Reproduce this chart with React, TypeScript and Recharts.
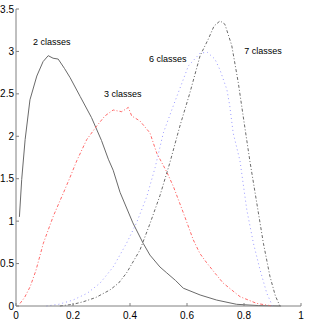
import React from 'react';
import { LineChart, Line, XAxis, YAxis, ReferenceDot } from 'recharts';

// values (x, density)
const twoClasses = [
  { x: 0.012, y: 1.05 }, { x: 0.02, y: 1.49 }, { x: 0.032, y: 1.96 }, { x: 0.049, y: 2.43 },
  { x: 0.073, y: 2.71 }, { x: 0.095, y: 2.88 }, { x: 0.113, y: 2.95 }, { x: 0.13, y: 2.92 },
  { x: 0.148, y: 2.91 }, { x: 0.17, y: 2.8 }, { x: 0.19, y: 2.69 }, { x: 0.225, y: 2.47 },
  { x: 0.265, y: 2.22 }, { x: 0.3, y: 1.95 }, { x: 0.324, y: 1.73 }, { x: 0.341, y: 1.6 },
  { x: 0.365, y: 1.34 }, { x: 0.41, y: 0.98 }, { x: 0.446, y: 0.74 }, { x: 0.47, y: 0.6 },
  { x: 0.505, y: 0.46 }, { x: 0.529, y: 0.39 }, { x: 0.56, y: 0.3 }, { x: 0.587, y: 0.21 },
  { x: 0.646, y: 0.13 }, { x: 0.704, y: 0.07 }, { x: 0.774, y: 0.02 }, { x: 0.85, y: 0.005 },
  { x: 0.93, y: 0 },
];

const threeClasses = [
  { x: 0.014, y: 0.03 }, { x: 0.03, y: 0.1 }, { x: 0.05, y: 0.23 }, { x: 0.07, y: 0.42 },
  { x: 0.096, y: 0.74 }, { x: 0.131, y: 1.06 }, { x: 0.166, y: 1.33 }, { x: 0.19, y: 1.52 },
  { x: 0.213, y: 1.71 }, { x: 0.248, y: 1.96 }, { x: 0.283, y: 2.12 }, { x: 0.312, y: 2.24 },
  { x: 0.341, y: 2.31 }, { x: 0.355, y: 2.3 }, { x: 0.371, y: 2.29 }, { x: 0.394, y: 2.34 },
  { x: 0.406, y: 2.24 }, { x: 0.435, y: 2.18 }, { x: 0.47, y: 2.04 }, { x: 0.494, y: 1.8 },
  { x: 0.529, y: 1.58 }, { x: 0.552, y: 1.41 }, { x: 0.587, y: 1.1 }, { x: 0.622, y: 0.78 },
  { x: 0.645, y: 0.62 }, { x: 0.669, y: 0.51 }, { x: 0.7, y: 0.38 }, { x: 0.727, y: 0.27 },
  { x: 0.786, y: 0.11 }, { x: 0.845, y: 0.03 }, { x: 0.9, y: 0 },
];

const sixClasses = [
  { x: 0.107, y: 0 }, { x: 0.15, y: 0.02 }, { x: 0.2, y: 0.07 }, { x: 0.25, y: 0.15 },
  { x: 0.295, y: 0.27 }, { x: 0.341, y: 0.46 }, { x: 0.388, y: 0.74 }, { x: 0.423, y: 0.98 },
  { x: 0.459, y: 1.29 }, { x: 0.488, y: 1.63 }, { x: 0.517, y: 2.04 }, { x: 0.552, y: 2.36 },
  { x: 0.587, y: 2.67 }, { x: 0.605, y: 2.83 }, { x: 0.646, y: 2.98 }, { x: 0.671, y: 2.99 },
  { x: 0.698, y: 2.91 }, { x: 0.716, y: 2.78 }, { x: 0.74, y: 2.55 }, { x: 0.75, y: 2.36 },
  { x: 0.762, y: 2.04 }, { x: 0.786, y: 1.71 }, { x: 0.81, y: 1.13 }, { x: 0.833, y: 0.74 },
  { x: 0.856, y: 0.43 }, { x: 0.88, y: 0.15 }, { x: 0.9, y: 0 },
];

const sevenClasses = [
  { x: 0.154, y: 0 }, { x: 0.2, y: 0.02 }, { x: 0.236, y: 0.05 }, { x: 0.28, y: 0.1 },
  { x: 0.33, y: 0.19 }, { x: 0.36, y: 0.27 }, { x: 0.388, y: 0.39 }, { x: 0.435, y: 0.66 },
  { x: 0.47, y: 0.97 }, { x: 0.505, y: 1.3 }, { x: 0.54, y: 1.69 }, { x: 0.575, y: 2.12 },
  { x: 0.61, y: 2.51 }, { x: 0.646, y: 2.95 }, { x: 0.674, y: 3.14 }, { x: 0.695, y: 3.3 },
  { x: 0.716, y: 3.36 }, { x: 0.733, y: 3.32 }, { x: 0.757, y: 3.07 }, { x: 0.78, y: 2.63 },
  { x: 0.797, y: 2.24 }, { x: 0.821, y: 1.7 }, { x: 0.845, y: 1.21 }, { x: 0.868, y: 0.74 },
  { x: 0.891, y: 0.35 }, { x: 0.91, y: 0.12 }, { x: 0.926, y: 0 },
];

const xTicks = [0, 0.2, 0.4, 0.6, 0.8, 1];
const yTicks = [0, 0.5, 1, 1.5, 2, 2.5, 3, 3.5];
const topTicks = [0.2, 0.6, 0.8];
const rightTicks = [2.5];

const annotations = [
  { x: 0.06, y: 3.11, text: '2 classes' },
  { x: 0.309, y: 2.5, text: '3 classes' },
  { x: 0.467, y: 2.91, text: '6 classes' },
  { x: 0.801, y: 3.0, text: '7 classes' },
];

const tickFont = { fontFamily: 'Liberation Sans, Arial, sans-serif', fontSize: 10, fill: '#000' };

const fmt = (v) => String(v);

function NoteLabel(props) {
  const { viewBox, value } = props;
  return (
    <text
      x={viewBox.x}
      y={viewBox.y}
      dominantBaseline="central"
      fontFamily="Liberation Sans, Arial, sans-serif"
      fontSize={9}
      fill="#000"
    >
      {value}
    </text>
  );
}

export default function App() {
  return (
    <div style={{ position: 'absolute', left: 0, top: 0 }}>
      <LineChart width={314} height={327} margin={{ top: 9, right: 13, bottom: 0, left: 0 }}>
        <XAxis
          xAxisId="bottom"
          type="number"
          dataKey="x"
          domain={[0, 1]}
          ticks={xTicks}
          tickFormatter={fmt}
          height={21}
          stroke="#808080"
          tickSize={-3}
          tickMargin={9}
          tick={tickFont}
        />
        <XAxis
          xAxisId="top"
          orientation="top"
          type="number"
          dataKey="x"
          domain={[0, 1]}
          ticks={topTicks}
          height={0}
          axisLine={false}
          tick={false}
          tickSize={-3}
          stroke="#808080"
        />
        <YAxis
          yAxisId="left"
          type="number"
          domain={[0, 3.5]}
          ticks={yTicks}
          tickFormatter={fmt}
          width={16}
          stroke="#808080"
          tickSize={-3}
          tickMargin={5}
          tick={tickFont}
        />
        <YAxis
          yAxisId="right"
          orientation="right"
          type="number"
          domain={[0, 3.5]}
          ticks={rightTicks}
          width={0}
          axisLine={false}
          tick={false}
          tickSize={-3}
          stroke="#808080"
        />
        <Line
          xAxisId="bottom"
          yAxisId="left"
          data={twoClasses}
          dataKey="y"
          stroke="#6a6a6a"
          strokeWidth={1}
          dot={false}
          isAnimationActive={false}
        />
        <Line
          xAxisId="bottom"
          yAxisId="left"
          data={threeClasses}
          dataKey="y"
          stroke="#ff6a6a"
          strokeWidth={1}
          strokeDasharray="3 2 1 2"
          dot={false}
          isAnimationActive={false}
        />
        <Line
          xAxisId="bottom"
          yAxisId="left"
          data={sixClasses}
          dataKey="y"
          stroke="#9a9aff"
          strokeWidth={1}
          strokeDasharray="1 3"
          dot={false}
          isAnimationActive={false}
        />
        <Line
          xAxisId="bottom"
          yAxisId="left"
          data={sevenClasses}
          dataKey="y"
          stroke="#6a6a6a"
          strokeWidth={1}
          strokeDasharray="3 2 1 2"
          dot={false}
          isAnimationActive={false}
        />
        {annotations.map((a) => (
          <ReferenceDot
            key={a.text}
            xAxisId="bottom"
            yAxisId="left"
            x={a.x}
            y={a.y}
            r={0}
            fill="none"
            stroke="none"
            label={<NoteLabel value={a.text} />}
          />
        ))}
      </LineChart>
    </div>
  );
}
